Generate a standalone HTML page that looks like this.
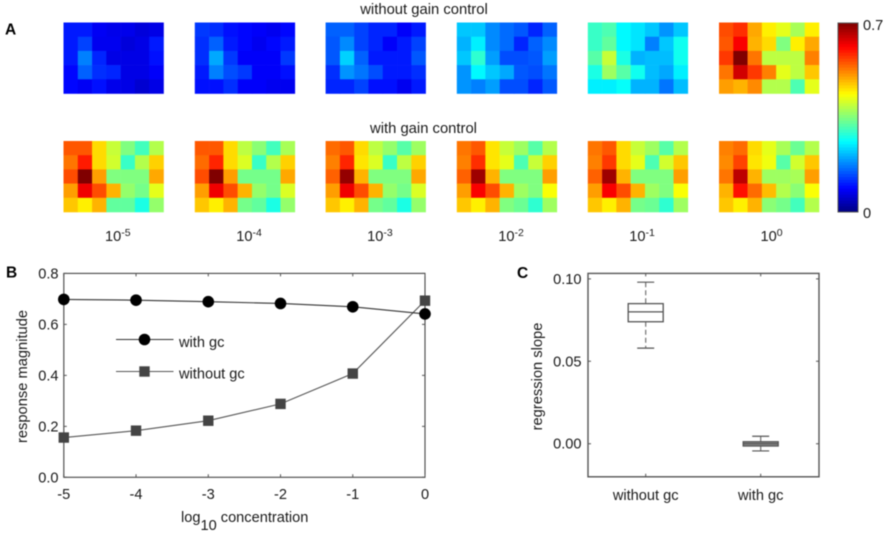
<!DOCTYPE html>
<html>
<head>
<meta charset="utf-8">
<title>Gain control response figure</title>
<style>
html,body{margin:0;padding:0;background:#fff;}
svg{display:block;font-family:"Liberation Sans",Arial,sans-serif;fill:#1a1a1a;filter:blur(0.5px);}
</style>
</head>
<body>
<svg id="fig" width="886" height="534" viewBox="0 0 886 534" xmlns="http://www.w3.org/2000/svg"></svg>
<script>
// Panel A data (fraction of colour-scale maximum)
const heatTop = [
 [[.15,.15,.115,.105,.105,.09,.10],[.15,.19,.11,.11,.09,.10,.15],[.15,.25,.16,.10,.10,.10,.14],[.13,.22,.17,.16,.10,.10,.12],[.13,.115,.14,.105,.10,.08,.10]],
 [[.18,.17,.14,.13,.12,.11,.13],[.17,.22,.15,.13,.11,.13,.15],[.17,.29,.18,.12,.12,.12,.18],[.15,.25,.20,.18,.12,.12,.14],[.14,.14,.17,.12,.12,.11,.11]],
 [[.22,.22,.19,.16,.16,.12,.15],[.21,.26,.19,.16,.12,.15,.19],[.21,.33,.22,.15,.15,.15,.21],[.17,.27,.24,.20,.15,.15,.17],[.16,.16,.19,.14,.14,.11,.15]],
 [[.32,.32,.26,.23,.21,.16,.22],[.30,.36,.26,.23,.16,.22,.26],[.32,.42,.28,.20,.20,.21,.28],[.27,.37,.32,.29,.21,.20,.24],[.27,.25,.28,.20,.20,.16,.21]],
 [[.43,.45,.37,.35,.32,.27,.32],[.43,.47,.37,.35,.25,.32,.39],[.46,.57,.40,.30,.31,.31,.39],[.40,.53,.46,.39,.31,.29,.36],[.36,.36,.38,.30,.30,.24,.31]],
 [[.80,.83,.71,.64,.60,.54,.64],[.79,.88,.70,.66,.50,.64,.71],[.82,1,.76,.56,.56,.56,.75],[.76,.92,.82,.75,.60,.56,.68],[.72,.70,.74,.55,.55,.45,.60]]
];
const heatBottom = [
 [[.79,.79,.66,.57,.50,.44,.55],[.76,.85,.66,.58,.43,.55,.67],[.80,1,.72,.50,.50,.50,.71],[.72,.89,.80,.70,.52,.49,.60],[.68,.64,.70,.47,.47,.40,.52]],
 [[.79,.79,.66,.56,.51,.44,.54],[.77,.84,.66,.59,.43,.55,.67],[.80,1,.72,.49,.49,.49,.71],[.72,.89,.80,.70,.52,.49,.59],[.68,.64,.70,.49,.47,.40,.52]],
 [[.77,.79,.66,.56,.52,.46,.53],[.75,.84,.65,.59,.43,.56,.67],[.78,.98,.70,.50,.50,.50,.71],[.72,.89,.80,.70,.52,.49,.59],[.68,.64,.70,.49,.47,.40,.52]],
 [[.76,.79,.65,.57,.53,.46,.55],[.75,.83,.65,.60,.45,.57,.67],[.78,.97,.70,.50,.50,.50,.72],[.72,.88,.80,.70,.53,.50,.62],[.68,.64,.70,.50,.48,.42,.53]],
 [[.76,.79,.66,.57,.53,.46,.55],[.75,.82,.66,.60,.45,.58,.68],[.78,.97,.70,.50,.50,.50,.72],[.72,.88,.80,.70,.53,.50,.62],[.68,.64,.70,.49,.48,.42,.53]],
 [[.75,.77,.66,.60,.54,.48,.55],[.74,.81,.65,.61,.46,.58,.68],[.76,.94,.70,.53,.53,.54,.72],[.70,.86,.77,.69,.55,.51,.62],[.68,.64,.70,.51,.49,.44,.55]]
];
const concExponents = ["-5","-4","-3","-2","-1","0"];
const colorbarLabels = ["0.7","0"];

// Panel B data
const concentrations = [-5,-4,-3,-2,-1,0];
const withGc = [.698,.695,.689,.682,.669,.641];
const withoutGc = [.156,.183,.222,.288,.407,.693];
const bTicksX = [-5,-4,-3,-2,-1,0];
const bTicksY = [0,.2,.4,.6,.8];

// Panel C data
const boxCategories = ["without gc","with gc"];
const boxLow = [.058,-.0044];
const boxQ1 = [.074,-.0014];
const boxMedian = [.080,0];
const boxQ3 = [.085,.0012];
const boxHigh = [.098,.0045];
const cTicksY = [0,.05,.10];

const svg = document.getElementById('fig');
const NS = 'http://www.w3.org/2000/svg';
const FS = 14.6;
function make(tag, attrs, parent){
  const e = document.createElementNS(NS, tag);
  for (const k in attrs) e.setAttribute(k, attrs[k]);
  (parent || svg).appendChild(e);
  return e;
}
function jet(t){
  const c = x => Math.round(255*Math.max(0,Math.min(1,x)));
  const r = Math.min(4*t-1.5, -4*t+4.5);
  const g = Math.min(4*t-0.5, -4*t+3.5);
  const b = Math.min(4*t+0.5, -4*t+2.5);
  return 'rgb('+c(r)+','+c(g)+','+c(b)+')';
}
function label(str, x, y, size, anchor, parent){
  const t = make('text', {x:x, y:y, 'font-size':size, 'text-anchor':anchor||'start'}, parent);
  t.textContent = str;
  return t;
}

// ---------- Panel A ----------
const panelX = [63.5,194.8,325.6,456.8,587.8,719];
const panelW = 100, topY = 22.5, bottomY = 141, panelH = 71;
function drawHeat(grid, px, py, name){
  const g = make('g', {});
  
  
  const cw = panelW/grid[0].length, ch = panelH/grid.length;
  grid.forEach((row, r) => row.forEach((v, c) => {
    const cell = make('rect', {x:px+c*cw, y:py+r*ch, width:cw+.3, height:ch+.3, fill:jet(v)}, g);
    
    
  }));
}
heatTop.forEach((grid, i) => drawHeat(grid, panelX[i], topY, 'heatmap-without-gc-'+(i+1)));
heatBottom.forEach((grid, i) => drawHeat(grid, panelX[i], bottomY, 'heatmap-with-gc-'+(i+1)));

concExponents.forEach((ex, i) => {
  const t = make('text', {x:panelX[i]+41.5, y:241, 'font-size':FS});
  
  
  t.textContent = '10';
  const s = make('tspan', {dy:-5, 'font-size':10.5}, t);
  s.textContent = ex;
});

const titleTop = label('without gain control', 424, 14, 14.8, 'middle');


const titleBottom = label('with gain control', 423.5, 133, 14.8, 'middle');



const cbGroup = make('g', {});


const cbX = 838, cbY = 23, cbW = 20, cbH = 189, cbSteps = 64;
for (let i = 0; i < cbSteps; i++){
  const step = make('rect', {x:cbX, y:cbY+cbH*(cbSteps-1-i)/cbSteps, width:cbW, height:cbH/cbSteps+.4, fill:jet((i+.5)/cbSteps)}, cbGroup);
  
  
}
const cbFrame = make('rect', {x:cbX, y:cbY, width:cbW, height:cbH, fill:'none', stroke:'#555', 'stroke-width':1}, cbGroup);


colorbarLabels.forEach((s, i) => {
  const t = label(s, 863, i === 0 ? 30 : 218, FS, 'start');
  
  
});

// Panel letters
[['A',5,34.5],['B',6,277.5],['C',517,278]].forEach(p => {
  const t = label(p[0], p[1], p[2], 15.5, 'start');
  t.setAttribute('font-weight', 'bold');
  t.setAttribute('fill', '#000');
  
  
});

// ---------- Panel B ----------
const bL = 63.8, bR = 425, bT = 273.4, bB = 477.3;
const bx = v => bL + (v+5)/5*(bR-bL);
const by = v => bB - v/.8*(bB-bT);
const bFrame = make('rect', {x:bL, y:bT, width:bR-bL, height:bB-bT, fill:'none', stroke:'#444', 'stroke-width':1.1});


bTicksX.forEach(v => {
  const x = bx(v);
  const tick = make('path', {d:'M'+x+' '+bB+'v-3M'+x+' '+bT+'v3', stroke:'#555', fill:'none'});
  
  
  const t = label(String(v), x, 499, FS, 'middle');
  
  
});
bTicksY.forEach(v => {
  const y = by(v);
  const tick = make('path', {d:'M'+bL+' '+y+'h3M'+bR+' '+y+'h-3', stroke:'#555', fill:'none'});
  
  
  const t = label(v.toFixed(1), 58.5, y+5, FS, 'end');
  
  
});
const lineWithout = make('polyline', {points:concentrations.map((c,i)=>bx(c)+','+by(withoutGc[i])).join(' '), fill:'none', stroke:'#555', 'stroke-width':1.1});


const lineWith = make('polyline', {points:concentrations.map((c,i)=>bx(c)+','+by(withGc[i])).join(' '), fill:'none', stroke:'#333', 'stroke-width':1.1});


concentrations.forEach((c,i) => {
  const sq = make('rect', {x:bx(c)-5.2, y:by(withoutGc[i])-5.2, width:10.4, height:10.4, fill:'#444'});
  
  
});
concentrations.forEach((c,i) => {
  const dot = make('circle', {cx:bx(c), cy:by(withGc[i]), r:5.8, fill:'#000'});
  
  
});

// Legend
const legend = make('g', {});


const leg1 = make('path', {d:'M116 339.5H173.5', stroke:'#333', fill:'none', 'stroke-width':1.1}, legend);


const leg1m = make('circle', {cx:144.5, cy:339.5, r:5.8, fill:'#000'}, legend);


const leg1t = label('with gc', 179, 347, FS, 'start', legend);


const leg2 = make('path', {d:'M116 371.5H173.5', stroke:'#555', fill:'none', 'stroke-width':1.1}, legend);


const leg2m = make('rect', {x:139.3, y:366.3, width:10.4, height:10.4, fill:'#444'}, legend);


const leg2t = label('without gc', 179, 378.5, FS, 'start', legend);



// Axis titles B
const bXTitle = make('text', {x:181, y:522, 'font-size':FS});


bXTitle.textContent = 'log';
const bSub = make('tspan', {dy:8}, bXTitle);
bSub.textContent = '10';
const bRest = make('tspan', {dy:-8}, bXTitle);
bRest.textContent = ' concentration';
const bYTitle = make('text', {transform:'translate(27,376.5) rotate(-90)', 'font-size':14.7, 'text-anchor':'middle'});


bYTitle.textContent = 'response magnitude';

// ---------- Panel C ----------
const cL = 588, cR = 819, cT = 273.4, cB = 476.8;
const cy = v => 443.7 - v*1648;
const cx = i => 645.7 + i*115;
const cFrame = make('rect', {x:cL, y:cT, width:cR-cL, height:cB-cT, fill:'none', stroke:'#555', 'stroke-width':1.4});


cTicksY.forEach(v => {
  const y = cy(v);
  const tick = make('path', {d:'M'+cL+' '+y+'h3M'+cR+' '+y+'h-3', stroke:'#555', fill:'none'});
  
  
  const t = label(v.toFixed(2), 581.5, y+5, FS, 'end');
  
  
});
boxCategories.forEach((name, i) => {
  const x = cx(i);
  const tick = make('path', {d:'M'+x+' '+cB+'v-3M'+x+' '+cT+'v3', stroke:'#555', fill:'none'});
  
  
  const t = label(name, x, 500, FS, 'middle');
  
  
  const g = make('g', {});
  
  
  const whisk = make('path', {d:'M'+x+' '+cy(boxHigh[i])+'V'+cy(boxQ3[i])+'M'+x+' '+cy(boxQ1[i])+'V'+cy(boxLow[i]), stroke:'#666', fill:'none', 'stroke-dasharray':i===0?'5 3':'none', 'stroke-width':1.1}, g);
  
  
  const caps = make('path', {d:'M'+(x-8.5)+' '+cy(boxHigh[i])+'h17M'+(x-8.5)+' '+cy(boxLow[i])+'h17', stroke:'#555', fill:'none', 'stroke-width':1.2}, g);
  
  
  const box = make('rect', {x:x-17.5, y:cy(boxQ3[i]), width:35, height:cy(boxQ1[i])-cy(boxQ3[i]), fill:i===0?'#fff':'#888', stroke:'#555', 'stroke-width':1.3}, g);
  
  
  const med = make('path', {d:'M'+(x-17.5)+' '+cy(boxMedian[i])+'h35', stroke:'#555', fill:'none', 'stroke-width':1.2}, g);
  
  
});
const cYTitle = make('text', {transform:'translate(542,376.5) rotate(-90)', 'font-size':14.7, 'text-anchor':'middle'});


cYTitle.textContent = 'regression slope';
</script>
</body>
</html>
